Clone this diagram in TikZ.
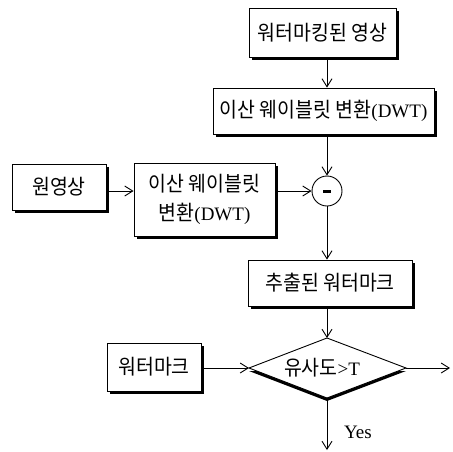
\documentclass[tikz,border=0pt]{standalone}
\usepackage{fontspec}
\setmainfont{Liberation Serif}
\newfontfamily\krfont[Scale=1.1,FakeStretch=0.93]{Noto Sans CJK KR}
\newcommand{\hk}[1]{{\krfont #1}}
\usetikzlibrary{arrows.meta,shadows}
\begin{document}
\begin{tikzpicture}[x=1pt,y=-1pt,
  box/.style={draw,line width=0.9pt,fill=white,inner sep=0pt,align=center,
    drop shadow={shadow xshift=2.5pt,shadow yshift=-2.5pt,fill=black,opacity=1}},
  conn/.style={line width=0.9pt,-{Straight Barb[length=8pt,width=10pt,line width=0.9pt]}},
  every node/.style={font=\fontsize{19}{29}\selectfont}]
\useasboundingbox (0,0) rectangle (453,451);
\node[box,minimum width=147pt,minimum height=49pt] (b1) at (322.5,32.5) {\hk{워터마킹된 영상}};
\node[box,minimum width=221pt,minimum height=46pt] (b2) at (323.5,111) {\hk{이산 웨이블릿 변환}(DWT)};
\node[draw,circle,line width=0.9pt,minimum size=30pt,inner sep=0pt] (c) at (327,191) {};
\draw[line width=3pt] ([xshift=-4pt]c.center) -- ([xshift=4pt]c.center);
\node[box,minimum width=94pt,minimum height=46pt] (b3) at (59,187) {\hk{원영상}};
\node[box,minimum width=141pt,minimum height=73pt] (b4) at (204.5,199.5) {\hk{이산 웨이블릿}\\\hk{변환}(DWT)};
\node[box,minimum width=164pt,minimum height=46pt] (b5) at (330,283) {\hk{추출된 워터마크}};
\node[box,minimum width=94pt,minimum height=48pt] (b6) at (154,367) {\hk{워터마크}};
\coordinate (dL) at (249,368);
\coordinate (dR) at (406,368);
\coordinate (dT) at (327,338);
\coordinate (dB) at (327,398);
\fill[black] ([yshift=-3pt]dL) -- ([yshift=-3pt]dB) -- ([yshift=-3pt]dR) -- cycle;
\draw[line width=0.9pt,fill=white] (dL) -- (dT) -- (dR) -- (dB) -- cycle;
\node[inner sep=0pt] (dtext) at (322,368) {\hk{유사도}>T};
\coordinate (outR) at (450,368);
\coordinate (outB) at (327,450);
\node[inner sep=0pt] (yes) at (358,432) {Yes};
\draw[conn] (b1.south -| c) -- (b2.north -| c);
\draw[conn] (b2.south -| c) -- (c.north);
\draw[conn] (b3.east |- c) -- (b4.west |- c);
\draw[conn] (b4.east |- c) -- (c.west);
\draw[conn] (c.south) -- (b5.north -| c);
\draw[conn] (b5.south -| c) -- (dT);
\draw[conn] (b6.east |- dL) -- (dL);
\draw[conn] (dR) -- (outR);
\draw[conn] (dB) -- (outB);
\end{tikzpicture}
\end{document}
